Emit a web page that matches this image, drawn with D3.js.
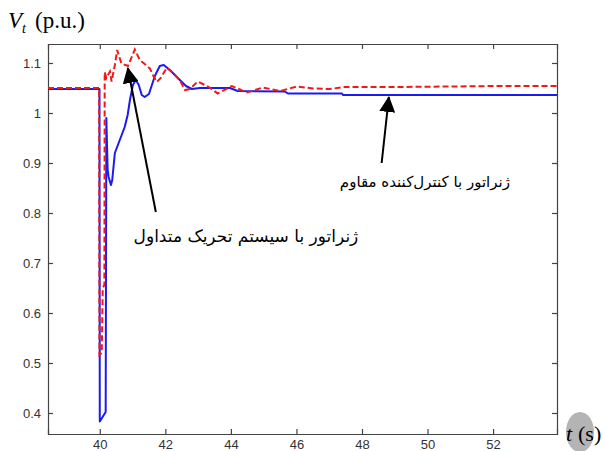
<!DOCTYPE html>
<html>
<head>
<meta charset="utf-8">
<script src="https://cdn.jsdelivr.net/npm/d3@7"></script>
<style>
  html, body { margin: 0; padding: 0; background: #fff; }
  svg { display: block; }
</style>
</head>
<body>
<svg id="chart" width="605" height="451"></svg>
<script>
// Terminal voltage response (p.u.) after a fault at t = 40 s
const xTicks = [40, 42, 44, 46, 48, 50, 52];
const yTicks = [0.4, 0.5, 0.6, 0.7, 0.8, 0.9, 1.0, 1.1];
const yTickLabels = ["0.4", "0.5", "0.6", "0.7", "0.8", "0.9", "1", "1.1"];

// Generator with robust controller (solid blue)
const robustT = [38.42, 39.99, 40.00, 40.18, 40.20, 40.24, 40.27, 40.34, 40.38, 40.46, 40.61, 40.76, 40.85, 40.92, 41.01, 41.10, 41.19, 41.28, 41.37, 41.50, 41.68, 41.83, 41.95, 42.14, 42.38, 42.63, 42.81, 43.05, 43.97, 44.21, 45.65, 45.74, 47.39, 47.42, 53.95];
const robustV = [1.048, 1.048, 0.383, 0.402, 0.990, 0.886, 0.872, 0.856, 0.866, 0.920, 0.946, 0.972, 0.996, 1.026, 1.056, 1.066, 1.056, 1.036, 1.032, 1.038, 1.074, 1.094, 1.096, 1.086, 1.070, 1.054, 1.048, 1.050, 1.050, 1.044, 1.043, 1.039, 1.039, 1.036, 1.036];

// Generator with conventional excitation system (dashed red)
const conventionalT = [38.42, 39.98, 39.99, 40.06, 40.09, 40.14, 40.15, 40.20, 40.31, 40.36, 40.46, 40.53, 40.66, 40.86, 41.07, 41.22, 41.37, 41.53, 41.62, 41.74, 41.86, 42.04, 42.20, 42.44, 42.60, 42.75, 42.99, 43.30, 43.60, 44.03, 44.49, 44.98, 45.50, 46.02, 46.50, 47.02, 47.48, 49.16, 52.21, 53.95];
const conventionalV = [1.050, 1.050, 0.516, 0.520, 0.650, 0.656, 1.082, 1.070, 1.083, 1.063, 1.096, 1.126, 1.099, 1.094, 1.127, 1.106, 1.098, 1.089, 1.076, 1.062, 1.070, 1.090, 1.082, 1.066, 1.046, 1.048, 1.063, 1.053, 1.039, 1.054, 1.041, 1.051, 1.044, 1.053, 1.049, 1.048, 1.052, 1.052, 1.054, 1.054];

// Annotation labels with their arrows (tail -> tip), in data units
const annotations = [
  { text: "ژنراتور با سیستم تحریک متداول", size: 17, tx: 44.46, tv: 0.742, tail: [41.71, 0.802], tip: [40.855, 1.090] },
  { text: "ژنراتور با کنترل‌کننده مقاوم", size: 15, tx: 49.92, tv: 0.852, tail: [48.60, 0.900], tip: [48.82, 1.032] }
];

const svg = d3.select("#chart");
const W = 605, H = 451;
const mLeft = 48, mRight = 557, mTop = 44, mBottom = 434;

svg.append("rect").attr("width", W).attr("height", H).attr("fill", "#fff");

const x = d3.scaleLinear().domain([38.42, 53.95]).range([mLeft, mRight]);
const y = d3.scaleLinear().domain([0.358, 1.138]).range([mBottom, mTop]);

// Axes: ticks point inward, box on all four sides
const tickFont = "'Liberation Sans', Arial, sans-serif";
const axisColor = "#444";

const gLeft = svg.append("g").attr("transform", `translate(${mLeft},0)`)
  .call(d3.axisLeft(y).tickValues(yTicks).tickSize(-5).tickPadding(7)
    .tickFormat((d, i) => yTickLabels[i]));
const gBottom = svg.append("g").attr("transform", `translate(0,${mBottom})`)
  .call(d3.axisBottom(x).tickValues(xTicks).tickSize(-5).tickPadding(6));
const gTop = svg.append("g").attr("transform", `translate(0,${mTop})`)
  .call(d3.axisTop(x).tickValues(xTicks).tickSize(-5).tickFormat(""));
const gRight = svg.append("g").attr("transform", `translate(${mRight},0)`)
  .call(d3.axisRight(y).tickValues(yTicks).tickSize(-5).tickFormat(""));

[gLeft, gBottom, gTop, gRight].forEach(g => {
  g.select(".domain").attr("stroke", axisColor).attr("stroke-width", 1.2);
  g.selectAll(".tick line").attr("stroke", axisColor).attr("stroke-width", 1.2);
  g.selectAll(".tick text").attr("fill", "#333").style("font-family", tickFont).style("font-size", "13px");
});

// Curves
const robust = robustT.map((t, i) => [t, robustV[i]]);
const conventional = conventionalT.map((t, i) => [t, conventionalV[i]]);
const line = d3.line().x(d => x(d[0])).y(d => y(d[1]));

svg.append("path").datum(robust)
  .attr("d", line).attr("fill", "none")
  .attr("stroke", "#1a1af2").attr("stroke-width", 2).attr("stroke-linejoin", "round");

svg.append("path").datum(conventional)
  .attr("d", line).attr("fill", "none")
  .attr("stroke", "#f01818").attr("stroke-width", 2)
  .attr("stroke-dasharray", "6,3");

// Annotation arrows and text
const defs = svg.append("defs");
defs.append("marker").attr("id", "head")
  .attr("viewBox", "0 0 16 16").attr("refX", 15).attr("refY", 8)
  .attr("markerWidth", 16).attr("markerHeight", 16)
  .attr("markerUnits", "userSpaceOnUse").attr("orient", "auto")
  .append("path").attr("d", "M0,0 L16,8 L0,16 Z").attr("fill", "#000");

annotations.forEach(a => {
  svg.append("line")
    .attr("x1", x(a.tail[0])).attr("y1", y(a.tail[1]))
    .attr("x2", x(a.tip[0])).attr("y2", y(a.tip[1]))
    .attr("stroke", "#000").attr("stroke-width", 2)
    .attr("marker-end", "url(#head)");
  svg.append("text")
    .attr("x", x(a.tx)).attr("y", y(a.tv))
    .attr("text-anchor", "middle").attr("direction", "rtl")
    .style("font-family", "'DejaVu Sans', sans-serif").style("font-size", a.size + "px")
    .attr("fill", "#000")
    .text(a.text);
});

// Axis titles
const serif = "'Liberation Serif', 'Times New Roman', serif";
const yTitle = svg.append("text").attr("x", 8).attr("y", 28)
  .style("font-family", serif).style("font-size", "23px").attr("fill", "#000");
yTitle.append("tspan").style("font-style", "italic").text("V");
yTitle.append("tspan").style("font-style", "italic").style("font-size", "14px").attr("dy", 5).text("t");
yTitle.append("tspan").attr("dy", -5).attr("x", 35).text("(p.u.)");

svg.append("ellipse").attr("cx", 580).attr("cy", 432).attr("rx", 14).attr("ry", 20).attr("fill", "#b4b4b4");
const xTitle = svg.append("text").attr("x", 566).attr("y", 441)
  .style("font-family", serif).style("font-size", "22px").attr("fill", "#000");
xTitle.append("tspan").style("font-style", "italic").text("t");
xTitle.append("tspan").attr("x", 578).text("(s)");
</script>
</body>
</html>
